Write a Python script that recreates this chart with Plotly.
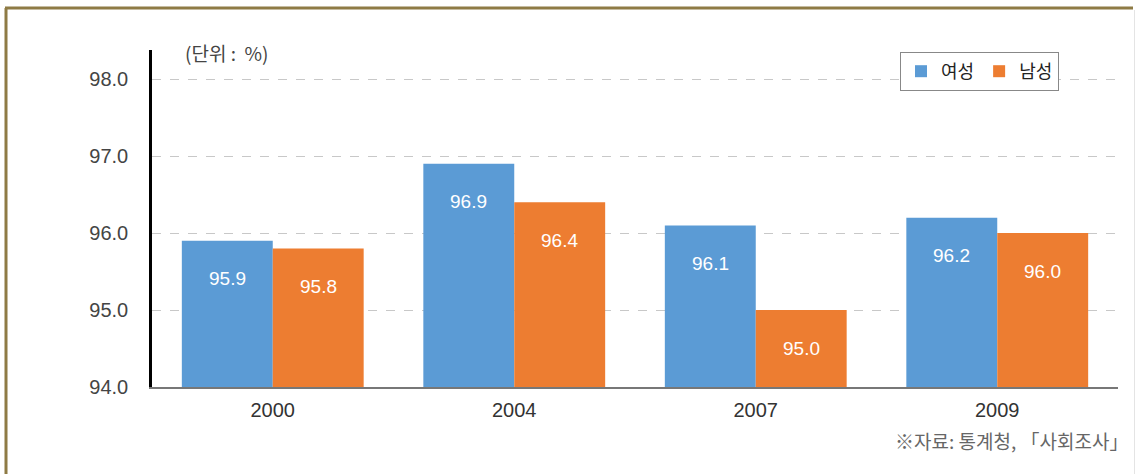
import plotly.graph_objects as go

years = ["2000", "2004", "2007", "2009"]
female = [95.9, 96.9, 96.1, 96.2]
male = [95.8, 96.4, 95.0, 96.0]
series_names = ["여성", "남성"]
colors = ["#5B9BD5", "#ED7D31"]
y_ticks = [94.0, 95.0, 96.0, 97.0, 98.0]

W, H = 1136, 474
L, R, T, B = 152, 18, 50, 87
pw, ph = W - L - R, H - T - B

def px_x(x):
    return (x - L) / pw

def px_y(y):
    return (H - B - y) / ph

FONT = "Liberation Sans, Noto Sans CJK KR, sans-serif"
KFONT = "Noto Sans CJK KR, sans-serif"

fig = go.Figure()
for name, vals, col in zip(series_names, [female, male], colors):
    fig.add_trace(go.Bar(x=years, y=vals, name=name, marker=dict(color=col, line=dict(width=0))))

# value labels inside bars
for vals, shift in [(female, -45.5), (male, 45.5)]:
    for i, v in enumerate(vals):
        fig.add_annotation(x=i, y=v, text=f"{v:.1f}", showarrow=False, xshift=shift, yshift=-38,
                           font=dict(color="white", size=19, family=FONT))

fig.add_annotation(x=px_x(226), y=px_y(53), xref="paper", yref="paper", xanchor="center", yanchor="middle",
                   text="(단위 :  %)", showarrow=False, font=dict(size=19, color="#444", family=KFONT))
fig.add_annotation(x=px_x(1130), y=px_y(440), xref="paper", yref="paper", xanchor="right", yanchor="middle",
                   text="※자료: 통계청, 「사회조사」", showarrow=False,
                   font=dict(size=19, color="#666", family=KFONT))

# frame lines
border = "#8E7B45"
fig.add_shape(type="line", xref="paper", yref="paper", x0=px_x(5), x1=px_x(1133), y0=px_y(8), y1=px_y(8),
              line=dict(color=border, width=3))
fig.add_shape(type="line", xref="paper", yref="paper", x0=px_x(6), x1=px_x(6), y0=px_y(8), y1=px_y(474),
              line=dict(color=border, width=3))
fig.add_shape(type="line", xref="paper", yref="paper", x0=px_x(1134.5), x1=px_x(1134.5), y0=px_y(10), y1=px_y(474),
              line=dict(color="#e4e4e4", width=1))

fig.update_layout(
    width=W, height=H,
    margin=dict(l=L, r=R, t=T, b=B, pad=0, autoexpand=False),
    paper_bgcolor="white", plot_bgcolor="white",
    barmode="group", bargap=0.247, bargroupgap=0,
    showlegend=True,
    legend=dict(orientation="h", x=px_x(900), y=px_y(52), xanchor="left", yanchor="top",
                bordercolor="#888", borderwidth=1, bgcolor="white",
                font=dict(size=18, color="#222", family=KFONT),
                itemwidth=30, tracegroupgap=0),
    font=dict(family=FONT),
)
fig.update_xaxes(type="category", range=[-0.5, 3.5], showline=True, linecolor="#777", linewidth=2, ticks="",
                 tickfont=dict(size=20, color="#333", family=FONT), showgrid=False, ticklabelstandoff=4)
fig.update_yaxes(range=[94, 98.38], tickvals=y_ticks, ticktext=[f"{v:.1f}" for v in y_ticks],
                 showline=True, linecolor="black", linewidth=2.5, ticks="",
                 tickfont=dict(size=20, color="#444", family=FONT), ticklabelstandoff=17,
                 showgrid=True, gridcolor="#c8c8c8", griddash="dash", gridwidth=1.2, zeroline=False)

fig.write_html("out.html", config={"displayModeBar": False},
               post_script="document.body.style.margin='0';document.body.style.overflow='hidden';")
